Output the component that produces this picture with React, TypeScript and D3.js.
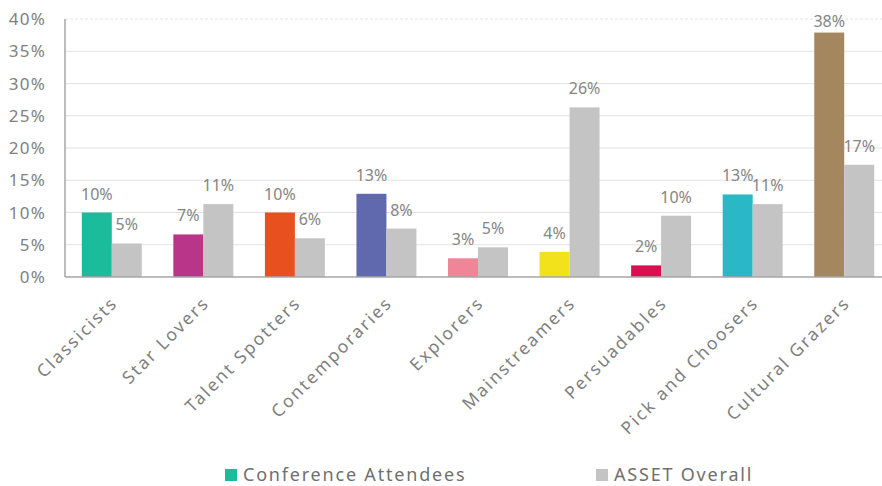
import * as d3 from 'd3';

const categories = [
  'Classicists',
  'Star Lovers',
  'Talent Spotters',
  'Contemporaries',
  'Explorers',
  'Mainstreamers',
  'Persuadables',
  'Pick and Choosers',
  'Cultural Grazers',
];
const attendees = [10.0, 6.6, 10.0, 12.9, 2.9, 3.9, 1.8, 12.8, 37.9];
const assetOverall = [5.2, 11.3, 6.0, 7.5, 4.6, 26.3, 9.5, 11.3, 17.4];
const attendeeColors = [
  '#1bbc9b',
  '#b8358a',
  '#e9501f',
  '#6068ae',
  '#ef8597',
  '#f2e21c',
  '#d81050',
  '#2bb8c6',
  '#a5875f',
];
const seriesNames = ['Conference Attendees', 'ASSET Overall'];
const greyColor = '#c4c4c4';
const yTicks = [0, 5, 10, 15, 20, 25, 30, 35, 40];

const W = 882;
const H = 486;
const font = '"Noto Sans", "Open Sans", sans-serif';

export default function App() {
  const left = 65;
  const right = 890;
  const top = 19;
  const bottom = 277;

  const y = d3.scaleLinear().domain([0, 40]).range([bottom, top]);
  const x0 = d3
    .scaleBand()
    .domain(categories)
    .range([left + 1, right])
    .paddingInner(0.345)
    .paddingOuter(0.1725);
  const x1 = d3.scaleBand().domain(['a', 'b']).range([0, x0.bandwidth()]);

  const rows = categories.map((c, i) => ({
    cat: c,
    vals: [
      { key: 'a', v: attendees[i], color: attendeeColors[i] },
      { key: 'b', v: assetOverall[i], color: greyColor },
    ],
  }));

  return (
    <svg
      width={W}
      height={H}
      style={{ position: 'absolute', left: 0, top: 0, background: '#fff' }}
      fontFamily={font}
    >
      {/* gridlines */}
      {yTicks.slice(1).map((t) => (
        <line
          key={t}
          x1={left}
          x2={W}
          y1={y(t)}
          y2={y(t)}
          stroke="#e3e3e3"
          strokeWidth={1}
          strokeDasharray={t === 40 ? '3,2' : undefined}
        />
      ))}
      {/* y tick labels */}
      {yTicks.map((t) => (
        <text
          key={t}
          x={46}
          y={y(t)}
          dy="0.36em"
          textAnchor="end"
          fontSize={17}
          letterSpacing={1.2}
          fill="#808080"
        >
          {t}%
        </text>
      ))}
      {/* bars */}
      {rows.map((r) => (
        <g key={r.cat} transform={`translate(${x0(r.cat)},0)`}>
          {r.vals.map((d) => (
            <g key={d.key}>
              <rect
                x={x1(d.key)}
                y={y(d.v)}
                width={x1.bandwidth()}
                height={bottom - y(d.v)}
                fill={d.color}
              />
              <text
                x={(x1(d.key) as number) + x1.bandwidth() / 2}
                y={Math.max(y(d.v) - 13, 27)}
                textAnchor="middle"
                fontSize={16}
                fill="#858585"
              >
                {Math.round(d.v)}%
              </text>
            </g>
          ))}
        </g>
      ))}
      {/* axes */}
      <line x1={left} x2={left} y1={top} y2={bottom} stroke="#a6a6a6" strokeWidth={1.5} />
      <line x1={left} x2={W} y1={bottom} y2={bottom} stroke="#a6a6a6" strokeWidth={1.5} />
      {/* category labels */}
      {categories.map((c) => {
        const cx = (x0(c) as number) + x0.bandwidth() / 2;
        return (
          <text
            key={c}
            transform={`translate(${cx + 7},${bottom + 27}) rotate(-45)`}
            textAnchor="end"
            fontSize={17.5}
            letterSpacing={2.1}
            fill="#7f7f7f"
          >
            {c}
          </text>
        );
      })}
      {/* legend */}
      {seriesNames.map((s, i) => {
        const lx = i === 0 ? 225 : 596;
        return (
          <g key={s} transform={`translate(${lx},469)`}>
            <rect width={12} height={12} fill={i === 0 ? attendeeColors[0] : greyColor} />
            <text x={18} y={6} dy="0.36em" fontSize={18} letterSpacing={1.8} fill="#6f6f6f">
              {s}
            </text>
          </g>
        );
      })}
    </svg>
  );
}
